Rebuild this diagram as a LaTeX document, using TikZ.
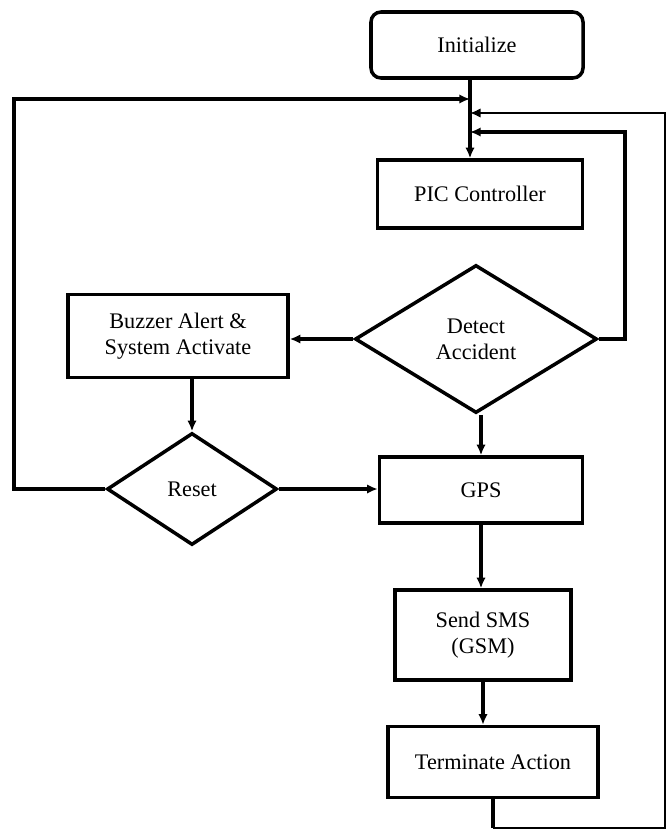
\documentclass[tikz,border=0pt]{standalone}
\usepackage{fontspec}
\setmainfont{Liberation Serif}
\usetikzlibrary{arrows.meta,shapes.geometric}
\tikzset{
	box/.style={draw, line width=3pt, align=center, inner sep=0pt},
	decision/.style={draw, diamond, line width=3pt, align=center, inner sep=0pt},
	flow/.style={line width=2.8pt, -{Latex[length=9pt,width=8pt]}},
	plainflow/.style={line width=2.8pt},
	backflow/.style={line width=1.5pt, -{Latex[length=9pt,width=8pt]}}
}

\begin{document}
\begin{tikzpicture}[x=0.03cm, y=-0.03cm, font=\fontsize{19}{22.5}\selectfont]
			%%%%% START %%%%%
			\useasboundingbox (0, 0) rectangle (669, 831);
			
			\node[box, rounded corners=0.3cm, minimum width=6.36cm, minimum height=1.98cm] (init) at (477, 45) {Initialize};
			\node[box, minimum width=6.15cm, minimum height=2.04cm] (pic) at (480, 194) {PIC Controller};
			\node[decision, minimum width=7.26cm, minimum height=4.44cm] (detect) at (476, 339) {Detect\\Accident};
			\node[box, minimum width=6.6cm, minimum height=2.49cm] (buzzer) at (178, 336) {Buzzer Alert \&\\System Activate};
			\node[decision, minimum width=5.1cm, minimum height=3.36cm] (reset) at (192, 489) {Reset};
			\node[box, minimum width=6.09cm, minimum height=1.98cm] (gps) at (481, 490) {GPS};
			\node[box, minimum width=5.28cm, minimum height=2.7cm] (sms) at (483, 635) {Send SMS\\(GSM)};
			\node[box, minimum width=6.3cm, minimum height=2.13cm] (term) at (493, 762) {Terminate Action};
			
			% merge points on the spine
			\coordinate (spine) at (470, 0);
			\coordinate (m1) at (470, 99);
			\coordinate (m2) at (470, 113);
			\coordinate (m3) at (470, 132);
			\coordinate (lc) at (14, 99);
			\coordinate (ic) at (625, 132);
			\coordinate (oc) at (665, 113);
			\coordinate (bl) at (493, 828);
			
			\draw[flow] (init.south -| spine) -- (pic.north -| spine);
			\draw[flow] (detect.west) -- (buzzer.east |- detect.west);
			\draw[flow] (detect.east) -| (ic) -- (m3);
			\draw[flow] (buzzer.south -| reset.north) -- (reset.north);
			\draw[flow] (reset.west) -| (lc) -- (m1);
			\draw[flow] (reset.east) -- (reset.east -| gps.west);
			\draw[flow] (detect.south -| gps.north) -- (gps.north);
			\draw[flow] (gps.south) -- (gps.south |- sms.north);
			\draw[flow] (sms.south) -- (sms.south |- term.north);
			
			\draw[plainflow] (term.south) -- (bl);
			\draw[backflow] (bl) -| (oc) -- (m2);
			
			%%%%% END %%%%%
\end{tikzpicture}
\end{document}
